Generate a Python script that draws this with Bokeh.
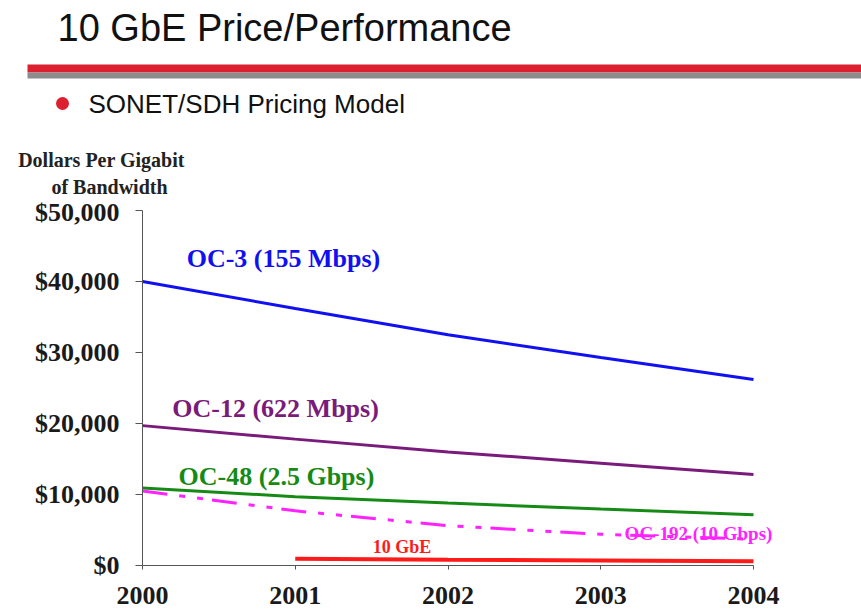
from bokeh.plotting import figure
from bokeh.models import Range1d, FixedTicker, NumeralTickFormatter, Label
from bokeh.layouts import column
from bokeh.embed import file_html
from bokeh.resources import INLINE

# ---- data ----
years = [2000, 2001, 2002, 2003, 2004]
oc3 = [40000, 36200, 32500, 29300, 26200]
oc12 = [19700, 17800, 16000, 14400, 12800]
oc48 = [10900, 9700, 8800, 7950, 7150]
oc192 = [10500, 7700, 5600, 4400, 3700]
gbe_years = [2001, 2002, 2003, 2004]
gbe = [950, 800, 700, 600]

y_ticks = [0, 10000, 20000, 30000, 40000, 50000]
x_ticks = [2000, 2001, 2002, 2003, 2004]

series_labels = ["OC-3 (155 Mbps)", "OC-12 (622 Mbps)", "OC-48 (2.5 Gbps)", "10 GbE", "OC-192 (10 Gbps)"]
label_x = [2000.923, 2000.871, 2000.877, 2001.699, 2003.640]
label_y = [43240, 22110, 12530, 2570, 4450]
colors = ["#1010f0", "#7a1a7a", "#158a15", "#ff1a1a", "#ff22ff"]
label_sizes = ["26px", "26px", "26px", "18px", "19px"]

W = 861
TOP_H = 197
MAIN_H = 615 - TOP_H

# ---- header figure (title, rule, bullet, axis caption) ----
top = figure(width=W, height=TOP_H, x_range=Range1d(0, W), y_range=Range1d(0, TOP_H),
             toolbar_location=None, output_backend="svg", min_border=0,
             x_axis_type=None, y_axis_type=None)
top.frame_align = False
top.grid.visible = False
top.outline_line_color = None

top.add_layout(Label(x=57, y=170, text="10 GbE Price/Performance", text_font="Liberation Sans",
                     text_font_size="38px", text_color="#111111", text_baseline="alphabetic"))
top.quad(left=[27], right=[W], bottom=[125], top=[133], fill_color="#dd2030", line_color=None)
top.quad(left=[27], right=[W], bottom=[119], top=[125], fill_color="#8c8c8c", line_color=None)
top.scatter(x=[62], y=[94], size=13, marker="circle", fill_color="#dd2030", line_color=None)
top.add_layout(Label(x=88, y=94, text="SONET/SDH Pricing Model", text_font="Liberation Sans",
                     text_font_size="26px", text_color="#111111", text_baseline="alphabetic"))
top.add_layout(Label(x=101, y=38, text="Dollars Per Gigabit", text_font="Liberation Serif",
                     text_font_style="bold", text_font_size="20px", text_color="#222222",
                     text_align="center", text_baseline="alphabetic"))
top.add_layout(Label(x=109, y=11, text="of Bandwidth", text_font="Liberation Serif",
                     text_font_style="bold", text_font_size="20px", text_color="#222222",
                     text_align="center", text_baseline="alphabetic"))

# ---- main chart ----
px_per_year = (753 - 142) / 4.0
x_end = 2004 + (800 - 753) / px_per_year   # room on the right for the OC-192 label

p = figure(width=W, height=MAIN_H, x_range=Range1d(2000, x_end), y_range=Range1d(0, 50000),
           toolbar_location=None, output_backend="svg",
           min_border_left=142, min_border_right=W - 800, min_border_top=13, min_border_bottom=50)
p.frame_align = False
p.grid.visible = False
p.outline_line_color = None

p.line(years, oc3, line_color=colors[0], line_width=3)
p.line(years, oc12, line_color=colors[1], line_width=3)
p.line(years, oc48, line_color=colors[2], line_width=3)
p.line(years, oc192, line_color=colors[4], line_width=3, line_dash="25 12 6 12 6 9")
p.line(gbe_years, gbe, line_color=colors[3], line_width=4)

for t, lx, ly, c, s in zip(series_labels, label_x, label_y, colors, label_sizes):
    p.add_layout(Label(x=lx, y=ly, text=t, text_font="Liberation Serif", text_font_style="bold",
                       text_font_size=s, text_color=c, text_align="center",
                       text_baseline="alphabetic"))

xa = p.xaxis[0]
xa.ticker = FixedTicker(ticks=x_ticks)
xa.bounds = (2000, 2004)
xa.minor_tick_line_color = None
xa.major_tick_in = 0
xa.major_tick_out = 4
xa.major_label_standoff = 17
xa.major_label_text_font = "Liberation Serif"
xa.major_label_text_font_style = "bold"
xa.major_label_text_font_size = "26px"
xa.major_label_text_color = "#1a1a1a"
xa.axis_line_color = "#555555"
xa.major_tick_line_color = "#555555"

ya = p.yaxis[0]
ya.ticker = FixedTicker(ticks=y_ticks)
ya.formatter = NumeralTickFormatter(format="$0,0")
ya.minor_tick_line_color = None
ya.major_tick_in = 0
ya.major_tick_out = 7
ya.major_label_standoff = 16
ya.major_label_text_font = "Liberation Serif"
ya.major_label_text_font_style = "bold"
ya.major_label_text_font_size = "26px"
ya.major_label_text_color = "#1a1a1a"
ya.axis_line_color = "#555555"
ya.major_tick_line_color = "#555555"

layout = column(top, p, spacing=0)
open("out.html", "w").write(file_html(layout, INLINE))
